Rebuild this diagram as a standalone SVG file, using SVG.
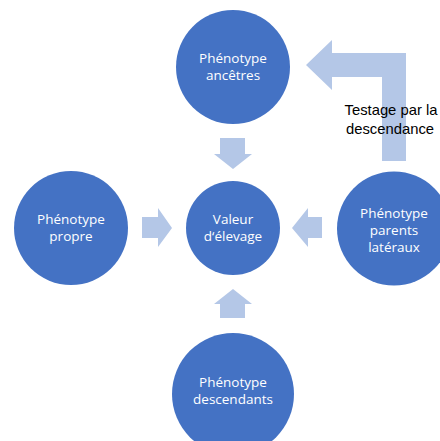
<svg xmlns="http://www.w3.org/2000/svg" width="440" height="441" viewBox="0 0 440 441">
<style>
.node{fill:#4472C4}
.lbl{fill:#ffffff;font-family:"Open Sans","Liberation Sans",sans-serif;font-size:13.5px;text-anchor:middle}
.arr{fill:#B4C7E7}
.note{fill:#000000;font-family:"Liberation Sans",Arial,sans-serif;font-size:14.8px;text-anchor:middle}
</style>
<rect width="440" height="441" fill="#ffffff"/>
<g id="connectors">
<polygon class="arr" points="220,138 245,138 245,154 252,154 233,169 214,154 220,154"/>
<polygon class="arr" points="142,217 158,217 158,208 172,228 158,247 158,238 142,238"/>
<polygon class="arr" points="322,217 308,217 308,208 292,228 308,247 308,238 322,238"/>
<polygon class="arr" points="220,318 245,318 245,304 252,304 233,289 214,304 220,304"/>
<polygon class="arr" points="382,161 406,161 406,53 332,53 332,40 306,65 332,90 332,77 382,77"/>
</g>
<g id="n-ancetres">
<circle class="node" cx="233" cy="67" r="57"/>
<text class="lbl" x="233" y="63">Phénotype</text>
<text class="lbl" x="233" y="80">ancêtres</text>
</g>
<g id="n-valeur">
<circle class="node" cx="233" cy="228" r="47"/>
<text class="lbl" x="233" y="224">Valeur</text>
<text class="lbl" x="233" y="241">d‘élevage</text>
</g>
<g id="n-propre">
<circle class="node" cx="71" cy="228" r="57"/>
<text class="lbl" x="71" y="224">Phénotype</text>
<text class="lbl" x="71" y="241">propre</text>
</g>
<g id="n-lateraux">
<circle class="node" cx="394" cy="228.5" r="57"/>
<text class="lbl" x="394" y="218">Phénotype</text>
<text class="lbl" x="394" y="235">parents</text>
<text class="lbl" x="394" y="252">latéraux</text>
</g>
<g id="n-descendants">
<circle class="node" cx="233" cy="394" r="61"/>
<text class="lbl" x="233" y="387">Phénotype</text>
<text class="lbl" x="233" y="404">descendants</text>
</g>
<g id="label-testage">
<text class="note" x="391" y="115">Testage par la</text>
<text class="note" x="390" y="134">descendance</text>
</g>
</svg>
